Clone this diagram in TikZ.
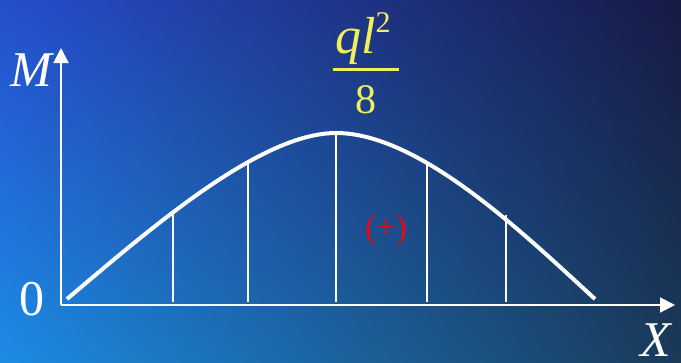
\documentclass[tikz,border=0pt]{standalone}
\usepackage{fontspec}
\setmainfont{Liberation Serif}
\usetikzlibrary{arrows.meta,shadings}
\definecolor{bgTL}{RGB}{38,78,205}
\definecolor{bgTR}{RGB}{22,26,68}
\definecolor{bgBL}{RGB}{28,140,228}
\definecolor{bgBR}{RGB}{26,58,88}
\definecolor{fracyellow}{RGB}{242,240,90}
\definecolor{signred}{RGB}{226,10,20}
\tikzset{
  axis/.style={white, line width=2pt, -{Triangle[length=15pt,width=15pt]}},
  ordinate/.style={white, line width=2pt},
  axislabel/.style={white, font=\fontsize{50}{50}\selectfont\itshape, inner sep=0pt, anchor=base},
  fractext/.style={fracyellow, inner sep=0pt, anchor=base},
}
\begin{document}
\begin{tikzpicture}[x=1pt,y=-1pt]
\shade[upper left=bgTL, upper right=bgTR, lower left=bgBL, lower right=bgBR] (0,0) rectangle (681,362);
\useasboundingbox (0,0) rectangle (681,362);
% axes
\coordinate (O) at (61,305);
\coordinate (Mtip) at (61,48);
\coordinate (Xtip) at (675,305);
\draw[axis] (O) -- (Mtip);
\draw[axis] (O) -- (Xtip);
\node[axislabel] (M) at (31,86) {M};
\node[axislabel] (X) at (656,356) {X};
\node[axislabel, font=\fontsize{50}{50}\selectfont] (zero) at (32,315) {0};
% ordinates
\draw[ordinate] (173,211) -- (173,302);
\draw[ordinate] (248,164) -- (248,302);
\draw[ordinate] (336,134) -- (336,302);
\draw[ordinate] (427,164) -- (427,302);
\draw[ordinate] (506,215) -- (506,302);
% moment curve
\draw[white, line width=4pt] (67,299) .. controls (150,229) and (260,133) .. (336,133)
  .. controls (420,133) and (525,235) .. (595,299);
% peak value
\node[fractext, anchor=base west, font=\fontsize{52}{52}\selectfont] (num) at (335,53) {\textit{ql}\raisebox{21pt}{\fontsize{30}{30}\selectfont 2}};
\node[fractext, font=\fontsize{42}{42}\selectfont] (den) at (366,113) {8};
\draw[fracyellow, line width=3pt] (333,69) -- (399,69);
\node[signred, font=\fontsize{34}{34}\selectfont] (sign) at (386,230) {(+)};
\end{tikzpicture}
\end{document}
